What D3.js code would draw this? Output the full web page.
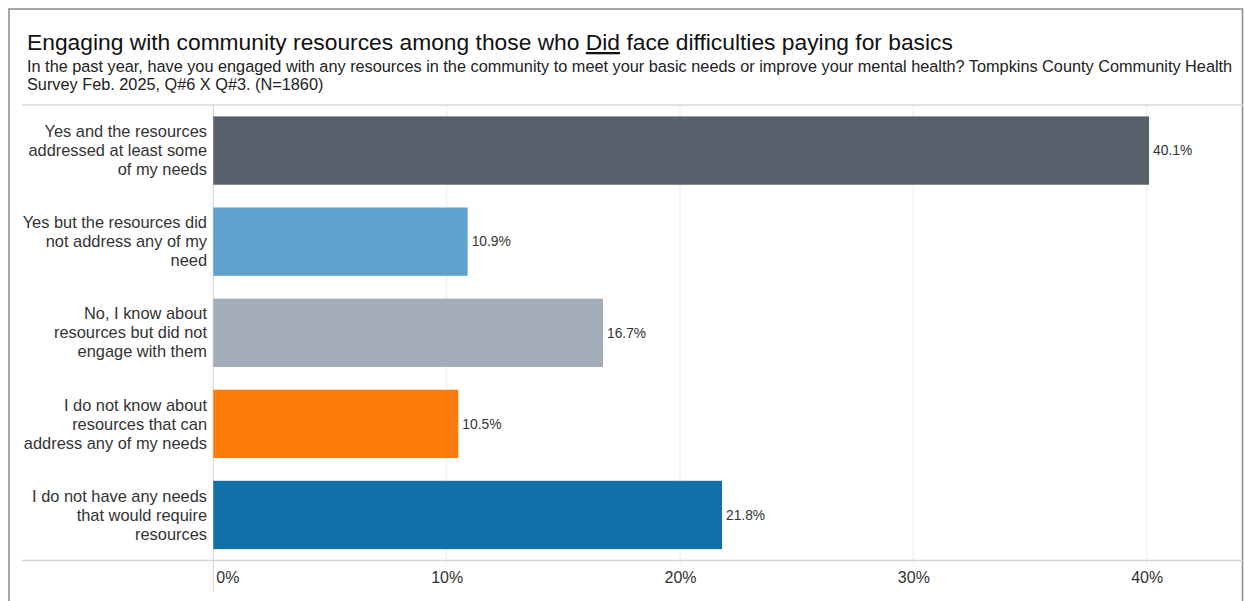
<!DOCTYPE html>
<html>
<head>
<meta charset="utf-8">
<script src="https://cdn.jsdelivr.net/npm/d3@7"></script>
<style>
  html, body { margin: 0; padding: 0; background: #fff; }
  svg { display: block; font-family: "Liberation Sans", Arial, sans-serif; }
</style>
</head>
<body>
<svg id="chart" width="1244" height="601"></svg>
<script>
// Response categories (each one wrapped over three lines)
const categories = [
  ["Yes and the resources", "addressed at least some", "of my needs"],
  ["Yes but the resources did", "not address any of my", "need"],
  ["No, I know about", "resources but did not", "engage with them"],
  ["I do not know about", "resources that can", "address any of my needs"],
  ["I do not have any needs", "that would require", "resources"]
];
// Share of respondents (%)
const values = [40.1, 10.9, 16.7, 10.5, 21.8];
const colors = ["#57606c", "#5fa2ce", "#a3acb9", "#fc7d0b", "#1170aa"];
const ticks = [0, 10, 20, 30, 40];

const svg = d3.select("#chart");
const W = 1244, H = 601;

// Frame
svg.append("rect").attr("x", 9).attr("y", 9).attr("width", 1233.5).attr("height", 600)
  .attr("fill", "none").attr("stroke", "#8a8a8a").attr("stroke-width", 1.5);

// Title with underlined word
const title = svg.append("text").attr("x", 27).attr("y", 50)
  .attr("font-size", 22.8).attr("fill", "#111");
title.append("tspan").text("Engaging with community resources among those who ");
title.append("tspan").attr("text-decoration", "underline").text("Did");
title.append("tspan").text(" face difficulties paying for basics");

const sub = svg.append("text").attr("font-size", 16.3).attr("fill", "#222");
sub.append("tspan").attr("x", 27).attr("y", 71.5)
  .text("In the past year, have you engaged with any resources in the community to meet your basic needs or improve your mental health? Tompkins County Community Health");
sub.append("tspan").attr("x", 27).attr("y", 90)
  .text("Survey Feb. 2025, Q#6 X Q#3. (N=1860)");

// Plot geometry
const x0 = 213.3, plotTop = 105, plotBottom = 560.5;
const x = d3.scaleLinear().domain([0, 40]).range([x0, x0 + 40 * 23.335]);
const y = d3.scaleBand().domain(d3.range(values.length)).range([plotTop, plotBottom])
  .paddingInner(0.25).paddingOuter(0.125);

// Gridlines
svg.append("g").selectAll("line").data(ticks.slice(1)).join("line")
  .attr("x1", d => x(d)).attr("x2", d => x(d))
  .attr("y1", plotTop).attr("y2", 565)
  .attr("stroke", "#ececec").attr("stroke-width", 1);

// Header separator and axis baseline
svg.append("line").attr("x1", 22).attr("x2", W).attr("y1", plotTop).attr("y2", plotTop)
  .attr("stroke", "#d9d9d9").attr("stroke-width", 1.5);
svg.append("line").attr("x1", 22).attr("x2", W).attr("y1", plotBottom).attr("y2", plotBottom)
  .attr("stroke", "#d4d4d4").attr("stroke-width", 1.5);
svg.append("line").attr("x1", x0).attr("x2", x0).attr("y1", plotTop).attr("y2", 592)
  .attr("stroke", "#d0d0d0").attr("stroke-width", 1);

// Bars
svg.append("g").selectAll("rect").data(values).join("rect")
  .attr("x", x(0)).attr("y", (d, i) => y(i))
  .attr("width", d => x(d) - x(0)).attr("height", y.bandwidth())
  .attr("fill", (d, i) => colors[i]);

// Value labels
svg.append("g").selectAll("text").data(values).join("text")
  .attr("x", d => x(d) + 4).attr("y", (d, i) => y(i) + y.bandwidth() / 2)
  .attr("dy", "0.35em").attr("font-size", 13.8).attr("fill", "#333")
  .text(d => d.toFixed(1) + "%");

// Category labels
const cat = svg.append("g").selectAll("text").data(categories).join("text")
  .attr("text-anchor", "end").attr("font-size", 16.4).attr("fill", "#333");
cat.each(function(lines, i) {
  const cy = y(i) + y.bandwidth() / 2;
  d3.select(this).selectAll("tspan").data(lines).join("tspan")
    .attr("x", 207).attr("y", (l, j) => cy + (j - 1) * 19).attr("dy", "0.35em")
    .text(l => l);
});

// Axis labels
const axis = d3.axisBottom(x).tickValues(ticks).tickFormat(d => d + "%").tickSize(0);
const ax = svg.append("g").attr("transform", `translate(0,${plotBottom})`).call(axis);
ax.select(".domain").remove();
ax.selectAll("text").attr("font-size", 16).attr("fill", "#333")
  .attr("font-family", "Liberation Sans, Arial, sans-serif")
  .attr("y", 11).attr("dy", "0.71em");
ax.selectAll(".tick").filter(d => d === 0).select("text")
  .attr("text-anchor", "start").attr("x", 2.5);
</script>
</body>
</html>
